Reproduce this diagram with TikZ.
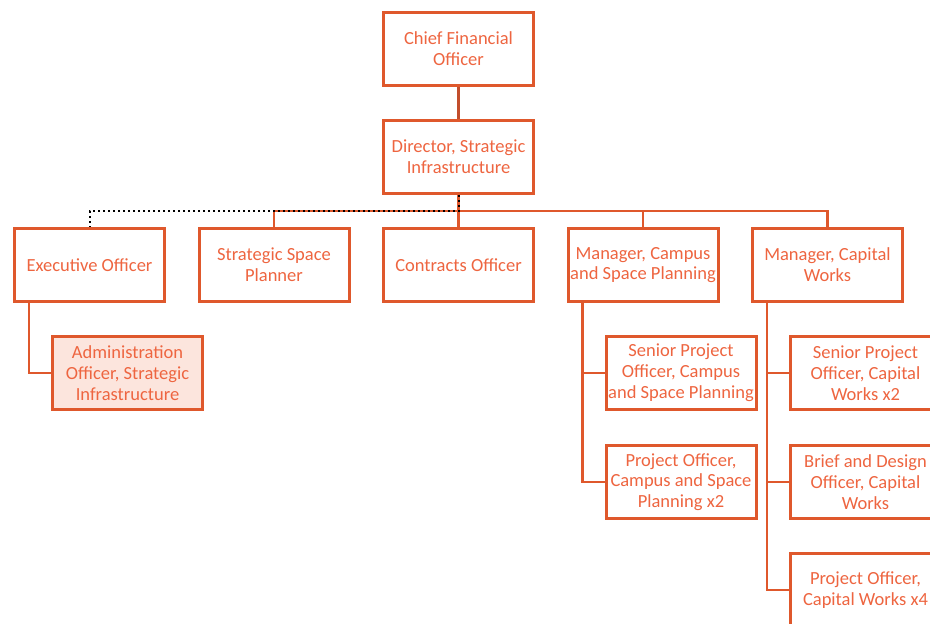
\documentclass[tikz,border=0pt]{standalone}
\usepackage{fontspec}
\setmainfont{Carlito}
\usepackage{xcolor}
\usetikzlibrary{positioning}
\definecolor{orgline}{HTML}{DF582C}
\definecolor{orgtext}{HTML}{EE6540}
\definecolor{orgdark}{HTML}{C24E2C}
\definecolor{orgfill}{HTML}{FCE5DD}

\begin{document}
\begin{tikzpicture}[
node distance=32pt and 31.5pt,
box/.style={draw=orgline, line width=3pt, align=center, text=orgtext, font=\fontsize{18.5}{20.8}\selectfont, minimum width=150pt, minimum height=73pt, inner sep=1pt, fill=white},
adminbox/.style={box, fill=orgfill},
link/.style={draw=orgline, line width=2.5pt},
dotlink/.style={draw=black, line width=2pt, dash pattern=on 2pt off 3pt}
]
\clip (0pt,0pt) rectangle (930pt,-624pt);
\useasboundingbox (0pt,0pt) rectangle (930pt,-624pt);
\node[box] (cfo) at (458.5pt,-49pt) {Chief Financial\\Officer};
\node[box, below=of cfo] (director) {Director, Strategic\\Infrastructure};
\node[box, below=of director] (contracts) {Contracts Officer};
\node[box, left=of contracts] (planner) {Strategic Space\\Planner};
\node[box, left=of planner] (exec) {Executive Officer};
\node[box, right=of contracts] (campus) {Manager, Campus\\and Space Planning};
\node[box, right=of campus] (capital) {Manager, Capital\\Works};
\node[adminbox, below right=32pt and 38pt of exec.south west] (admin) {Administration\\Officer, Strategic\\Infrastructure};
\node[box, below right=32pt and 38pt of campus.south west] (cspo) {Senior Project\\Officer, Campus\\and Space Planning};
\node[box, below=33pt of cspo] (cpo) {Project Officer,\\Campus and Space\\Planning x2};
\node[box, below right=32pt and 38pt of capital.south west] (wspo) {Senior Project\\Officer, Capital\\Works x2};
\node[box, below=33pt of wspo] (wbdo) {Brief and Design\\Officer, Capital\\Works};
\node[box, below=32pt of wbdo] (wpo) {Project Officer,\\Capital Works x4};
\coordinate (bus) at ([yshift=16pt]contracts.north);
\coordinate (execdrop) at ([xshift=16pt]exec.south west);
\coordinate (campusdrop) at ([xshift=16pt]campus.south west);
\coordinate (capitaldrop) at ([xshift=16pt]capital.south west);
\draw[link, draw=orgdark] (cfo) -- (director);
\draw[link] (director) -- (contracts);
\draw[link] (planner.north) |- (bus) -| (capital.north);
\draw[link] (bus) -| (campus.north);
\draw[link] (execdrop) |- (admin.west);
\draw[link] (campusdrop) |- (cspo.west);
\draw[link] (campusdrop) |- (cpo.west);
\draw[link] (capitaldrop) |- (wspo.west);
\draw[link] (capitaldrop) |- (wbdo.west);
\draw[link] (capitaldrop) |- (wpo.west);
\draw[dotlink] (director.south) -- (bus) -| (exec.north);
\end{tikzpicture}
\end{document}
